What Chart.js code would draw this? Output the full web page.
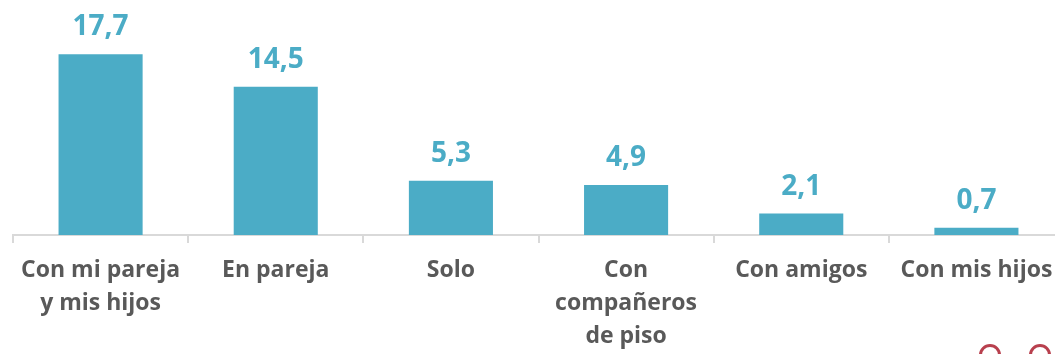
<!DOCTYPE html>
<html><head><meta charset="utf-8">
<style>
html,body{margin:0;padding:0;background:#fff;overflow:hidden;}
#wrap{position:absolute;left:0;top:0;width:1064px;height:354px;}
.ring{position:absolute;width:16px;height:16px;border:3px solid #B8404E;border-radius:50%;top:344px;}
</style>
<script src="https://cdn.jsdelivr.net/npm/chart.js@4"></script>
</head><body>
<div id="wrap"><canvas id="c"></canvas></div>
<div class="ring" style="left:979px"></div>
<div class="ring" style="left:1029px"></div>
<script>
const categories = [["Con mi pareja","y mis hijos"],"En pareja","Solo",["Con","compañeros","de piso"],"Con amigos","Con mis hijos"];
const values = [17.7,14.5,5.3,4.9,2.1,0.7];
const barColor = "#4BACC6";

const labelPlugin = {
  id:'vlabels',
  afterDatasetsDraw(chart){
    const ctx = chart.ctx;
    const meta = chart.getDatasetMeta(0);
    ctx.save();
    ctx.font = "bold 28px 'Open Sans', sans-serif";
    ctx.fillStyle = barColor;
    ctx.textAlign = 'center';
    ctx.textBaseline = 'alphabetic';
    meta.data.forEach((bar,i)=>{
      ctx.fillText(values[i].toFixed(1).replace('.',','), bar.x, bar.y - 19);
    });
    ctx.restore();
  }
};

new Chart(document.getElementById('c'),{
  type:'bar',
  data:{labels:categories,datasets:[{data:values,backgroundColor:barColor,barPercentage:0.8,categoryPercentage:0.6}]},
  options:{
    responsive:true,maintainAspectRatio:false,animation:false,
    layout:{padding:{left:13,right:0,top:0,bottom:0}},
    plugins:{legend:{display:false},tooltip:{enabled:false}},
    scales:{
      x:{
        afterFit(s){s.height=119;},
        grid:{display:true,drawOnChartArea:false,drawTicks:true,tickLength:8,color:'#D9D9D9',lineWidth:2,offset:true},
        border:{display:true,color:'#D9D9D9',width:2},
        ticks:{color:'#595959',font:{family:"'Open Sans', sans-serif",size:23,weight:'bold',lineHeight:1.43},padding:11,maxRotation:0,autoSkip:false}
      },
      y:{display:false,min:0,max:23}
    }
  },
  plugins:[labelPlugin]
});
</script>
</body></html>
